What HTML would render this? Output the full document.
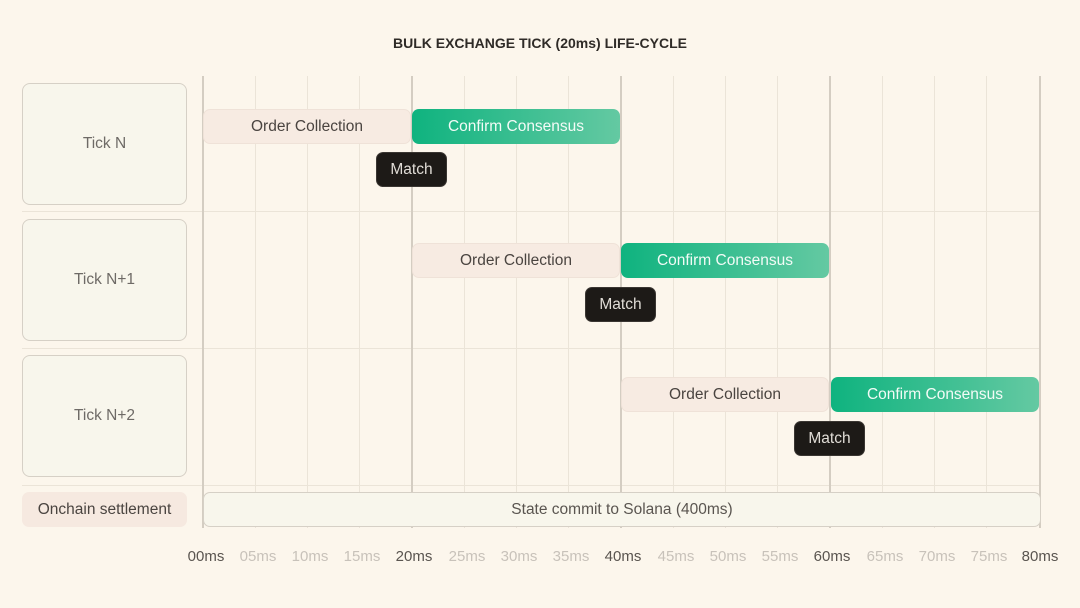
<!DOCTYPE html><html><head><style>
body{margin:0;width:1080px;height:608px;background:#fcf6ec;font-family:"Liberation Sans",sans-serif;position:relative;overflow:hidden}
div{position:absolute;box-sizing:border-box}
.v{top:76px;height:452px;width:1px;background:#ebe4d8}
.V{top:76px;height:452px;width:2px;background:#d4cdc2}
.h{left:22px;width:1018px;height:1px;background:#ebe4d8}
.tick{left:22px;width:165px;height:122px;background:#f8f6ec;border:1.5px solid #d6d0c6;border-radius:8px;display:flex;align-items:center;justify-content:center;color:#6e6a66;font-size:15.5px}
.oc{width:208px;height:35px;background:#f7ebe2;border:1px solid #efe2d8;border-radius:7px;display:flex;align-items:center;justify-content:center;color:#4a4440;font-size:15.5px}
.cc{width:208px;height:35px;background:linear-gradient(90deg,#0fb37f,#64c9a2);border-radius:7px;display:flex;align-items:center;justify-content:center;color:#f2fbf6;font-size:15.5px}
.m{width:71px;height:35px;background:#1d1a17;border-radius:7px;display:flex;align-items:center;justify-content:center;color:#e0dcd6;font-size:15.5px;border:1px solid #3a3632}
.ax{top:548px;font-size:15px;color:#c8c2ba;width:60px;text-align:center}
.ax.b{color:#5a5550}
</style></head><body>
<div style="top:35px;left:0;width:1080px;text-align:center;font-size:14px;color:#2f2b27;font-weight:600">BULK EXCHANGE TICK (20ms) LIFE-CYCLE</div>
<div class="h" style="top:211px"></div><div class="h" style="top:348px"></div><div class="h" style="top:485px"></div>
<div class="V" style="left:202px"></div>
<div class="v" style="left:255px"></div><div class="v" style="left:307px"></div><div class="v" style="left:359px"></div>
<div class="V" style="left:411px"></div>
<div class="v" style="left:464px"></div><div class="v" style="left:516px"></div><div class="v" style="left:568px"></div>
<div class="V" style="left:620px"></div>
<div class="v" style="left:673px"></div><div class="v" style="left:725px"></div><div class="v" style="left:777px"></div>
<div class="V" style="left:829px"></div>
<div class="v" style="left:882px"></div><div class="v" style="left:934px"></div><div class="v" style="left:986px"></div>
<div class="V" style="left:1039px"></div>
<div class="tick" style="top:83px">Tick N</div>
<div class="tick" style="top:219px">Tick N+1</div>
<div class="tick" style="top:355px">Tick N+2</div>
<div class="oc" style="left:203px;top:109px">Order Collection</div>
<div class="cc" style="left:412px;top:109px">Confirm Consensus</div>
<div class="m" style="left:376px;top:152px">Match</div>
<div class="oc" style="left:412px;top:243px">Order Collection</div>
<div class="cc" style="left:621px;top:243px">Confirm Consensus</div>
<div class="m" style="left:585px;top:287px">Match</div>
<div class="oc" style="left:621px;top:377px">Order Collection</div>
<div class="cc" style="left:831px;top:377px">Confirm Consensus</div>
<div class="m" style="left:794px;top:421px">Match</div>
<div style="left:22px;top:492px;width:165px;height:35px;background:#f6e9e0;border-radius:7px;display:flex;align-items:center;justify-content:center;font-size:15.5px;color:#4a4440">Onchain settlement</div>
<div style="left:203px;top:492px;width:838px;height:35px;background:#f8f6ec;border:1.5px solid #d6d0c6;border-radius:7px;display:flex;align-items:center;justify-content:center;font-size:15.5px;color:#5a5550;z-index:2">State commit to Solana (400ms)</div>
<div class="ax b" style="left:176px">00ms</div><div class="ax" style="left:228px">05ms</div><div class="ax" style="left:280px">10ms</div><div class="ax" style="left:332px">15ms</div>
<div class="ax b" style="left:384px">20ms</div><div class="ax" style="left:437px">25ms</div><div class="ax" style="left:489px">30ms</div><div class="ax" style="left:541px">35ms</div>
<div class="ax b" style="left:593px">40ms</div><div class="ax" style="left:646px">45ms</div><div class="ax" style="left:698px">50ms</div><div class="ax" style="left:750px">55ms</div>
<div class="ax b" style="left:802px">60ms</div><div class="ax" style="left:855px">65ms</div><div class="ax" style="left:907px">70ms</div><div class="ax" style="left:959px">75ms</div>
<div class="ax b" style="left:1010px">80ms</div>
</body></html>
